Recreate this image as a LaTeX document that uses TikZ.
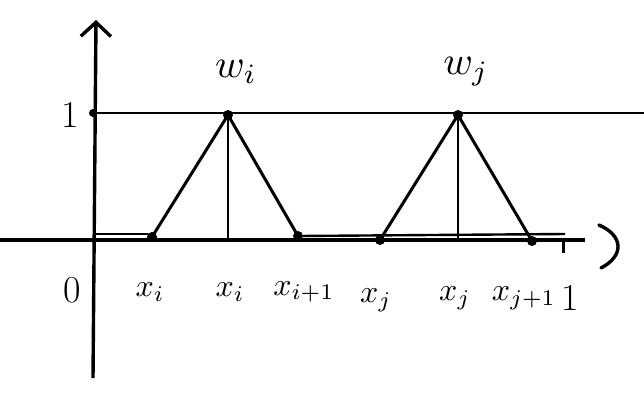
\documentclass[tikz,border=0pt]{standalone}
\usepackage{graphicx}
\usetikzlibrary{arrows.meta}
\begin{document}
\begin{tikzpicture}[x=1pt,y=-1pt,
  axis/.style={line width=3.4pt},
  hat/.style={line width=3pt},
  thin guide/.style={line width=1.1pt},
  dotpt/.style={circle,fill=black,inner sep=0pt,minimum size=10pt},
  lbl/.style={inner sep=0pt},
  num/.style={font=\fontsize{38}{40}\selectfont,inner sep=0pt}]
\useasboundingbox (0,0) rectangle (644,394);
% axes
\coordinate (ybot) at (93,378);
\coordinate (ytop) at (96,20);
\coordinate (xl) at (0,240);
\coordinate (xr) at (585,240);
\draw[axis,-{Straight Barb[length=14pt,width=30pt,line width=3.4pt]}] (ybot) -- (ytop);
\draw[axis] (xl) -- (xr);
\coordinate (pa) at (599,225);
\coordinate (pb) at (601,268);
\draw[axis,line cap=round] (pa) .. controls (624,236) and (624,256) .. (pb);
% level 1
\node[dotpt,minimum size=8pt] (one) at (93,113) {};
\coordinate (oneR) at (644,113);
\draw[line width=1.4pt] (one) -- (oneR);
\node[num] (onelbl) at (70,115) {1};
% points
\node[dotpt] (a) at (152,237) {};
\node[dotpt] (b) at (228,115) {};
\node[dotpt] (c) at (298,236) {};
\node[dotpt] (d) at (380,240) {};
\node[dotpt] (e) at (458,115) {};
\node[dotpt] (f) at (532,241) {};
\coordinate (bb) at (228,240);
\coordinate (eb) at (458,240);
\coordinate (base0) at (93,234);
\coordinate (base0b) at (148,234);
\coordinate (base1) at (565,234);
% baseline
\draw[line width=2.4pt] (base0) -- (base0b);
\draw[line width=2.4pt] (c) -- (base1);
% hats
\draw[hat] (a.center) -- (b.center) -- (c.center);
\draw[hat] (d.center) -- (e.center) -- (f.center);
\draw[thin guide] (b) -- (bb);
\draw[thin guide] (e) -- (eb);
% tick at 1
\coordinate (t1) at (563,240);
\coordinate (t2) at (563,253);
\draw[line width=3pt] (t1) -- (t2);
% labels
\node[lbl] (wi) at (236,72) {\scalebox{4}{$w_i$}};
\node[lbl] (wj) at (466,72) {\scalebox{4}{$w_j$}};
\node[num] (zero) at (72,290) {0};
\node[lbl] (lxa) at (150,292) {\scalebox{3.2}{$x_i$}};
\node[lbl] (lxb) at (230,292) {\scalebox{3.2}{$x_i$}};
\node[lbl] (lxc) at (304,292) {\scalebox{3.2}{$x_{i+1}$}};
\node[lbl] (lxd) at (376,300) {\scalebox{3.2}{$x_j$}};
\node[lbl] (lxe) at (455,298) {\scalebox{3.2}{$x_j$}};
\node[lbl] (lxf) at (524,298) {\scalebox{3.2}{$x_{j+1}$}};
\node[num] (lone) at (570,298) {1};
\end{tikzpicture}
\end{document}
